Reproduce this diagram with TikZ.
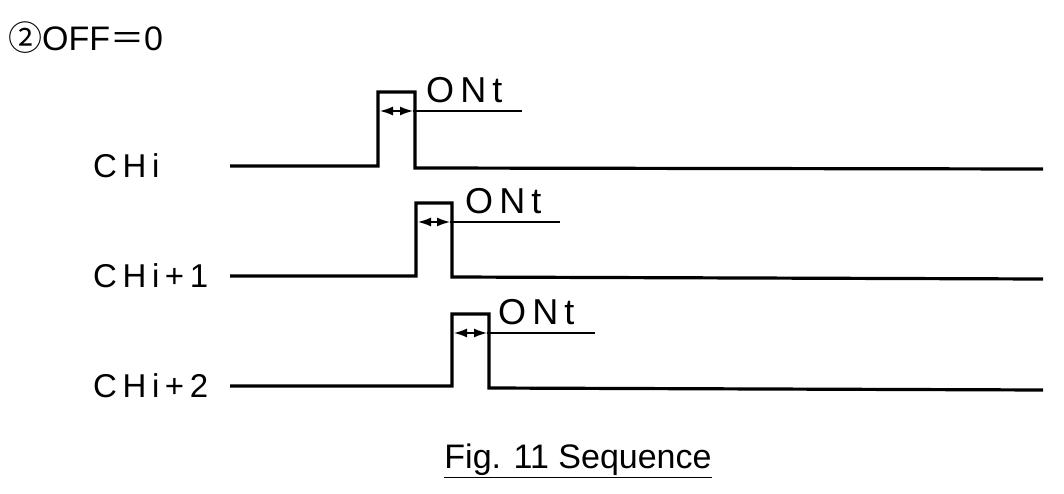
\documentclass[tikz,border=0pt]{standalone}
\usepackage{fontspec}
\setmainfont{Liberation Sans}
\newfontfamily\cjkf{Noto Sans CJK SC}
\usetikzlibrary{arrows.meta}
\begin{document}
\begin{tikzpicture}[x=1pt,y=-1pt,
  sig/.style={line width=3.2pt,line join=miter},
  dim/.style={line width=1.4pt},
  tip/.style={{Latex[length=13pt,width=9pt]}-{Latex[length=13pt,width=9pt]}},
  lab/.style={font=\fontsize{33}{33}\selectfont\addfontfeature{LetterSpace=17},inner sep=0pt},
  ont/.style={font=\fontsize{36}{36}\selectfont\addfontfeature{LetterSpace=17},inner sep=0pt,anchor=west}]
\useasboundingbox (0,0) rectangle (1064,494);
\node[anchor=west,inner sep=0pt,font=\fontsize{34}{34}\selectfont] (title) at (8,38) {{\cjkf ②}OFF{\cjkf ＝}0};
% CHi
\node[lab,anchor=west] (l0) at (93,166) {CHi};
\coordinate (a0) at (230,166); \coordinate (b0) at (378,166); \coordinate (c0) at (378,92);
\coordinate (d0) at (415,92); \coordinate (e0) at (415,168); \coordinate (f0) at (1043,169);
\draw[sig] (a0)--(b0)--(c0)--(d0)--(e0)--(f0);
\coordinate (p0) at (380,111); \coordinate (q0) at (413,111); \coordinate (r0) at (522,111);
\draw[dim,tip] (p0)--(q0);
\draw[dim] (q0)--(r0);
\node[ont] (o0) at (426,90) {ONt};
% CHi+1
\node[lab,anchor=west] (l1) at (93,276) {CHi+1};
\coordinate (a1) at (230,276); \coordinate (b1) at (416,276); \coordinate (c1) at (416,203);
\coordinate (d1) at (452,203); \coordinate (e1) at (452,277); \coordinate (f1) at (1043,279);
\draw[sig] (a1)--(b1)--(c1)--(d1)--(e1)--(f1);
\coordinate (p1) at (418,222); \coordinate (q1) at (450,222); \coordinate (r1) at (560,222);
\draw[dim,tip] (p1)--(q1);
\draw[dim] (q1)--(r1);
\node[ont] (o1) at (465,201) {ONt};
% CHi+2
\node[lab,anchor=west] (l2) at (93,386) {CHi+2};
\coordinate (a2) at (230,386); \coordinate (b2) at (452,386); \coordinate (c2) at (452,314);
\coordinate (d2) at (489,314); \coordinate (e2) at (489,388); \coordinate (f2) at (1043,390);
\draw[sig] (a2)--(b2)--(c2)--(d2)--(e2)--(f2);
\coordinate (p2) at (454,333); \coordinate (q2) at (487,333); \coordinate (r2) at (595,333);
\draw[dim,tip] (p2)--(q2);
\draw[dim] (q2)--(r2);
\node[ont] (o2) at (498,312) {ONt};
\node[inner sep=0pt,font=\fontsize{34}{34}\selectfont] (cap) at (578,461) {\underline{Fig. 11 Sequence}};
\end{tikzpicture}
\end{document}
